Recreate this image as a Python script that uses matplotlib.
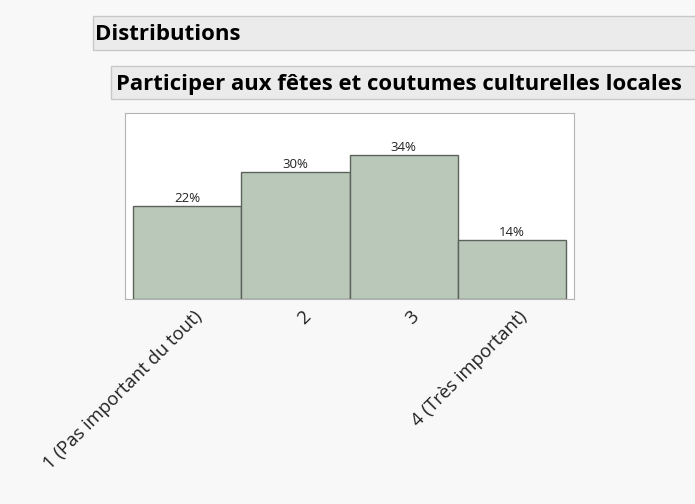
import matplotlib.pyplot as plt
import matplotlib.transforms as mtransforms
from matplotlib.patches import Rectangle

# data
categories = ["1 (Pas important du tout)", "2", "3", "4 (Très important)"]
percents = [22, 30, 34, 14]
bar_labels = ["22%", "30%", "34%", "14%"]

W, H = 695, 504
fig = plt.figure(figsize=(W / 100, H / 100), dpi=100)
fig.patch.set_facecolor("#f8f8f8")
plt.rcParams['font.family'] = ['Open Sans', 'DejaVu Sans']


def px_rect(x0, y0, x1, y1, **kw):
    # rectangle given in pixel coords (top-left origin)
    r = Rectangle((x0 / W, 1 - y1 / H), (x1 - x0) / W, (y1 - y0) / H,
                  transform=fig.transFigure, **kw)
    fig.add_artist(r)


# header bars
px_rect(93, 16, 700, 50, facecolor="#ebebeb", edgecolor="#c8c8c8", lw=1)
fig.text(95 / W, 1 - 40.5 / H, "Distributions", fontsize=16, fontweight="bold",
         va="baseline", ha="left")
px_rect(111, 66, 700, 99, facecolor="#ebebeb", edgecolor="#c8c8c8", lw=1)
fig.text(116 / W, 1 - 90 / H, "Participer aux fêtes et coutumes culturelles locales",
         fontsize=15.9, fontweight="bold", va="baseline", ha="left")

# plot area
ax = fig.add_axes([125 / W, 1 - 299 / H, (574 - 125) / W, (299 - 113) / H])
ax.set_facecolor("white")
x = range(len(categories))
ax.bar(x, percents, width=1.0, color="#b9c8b9", edgecolor="#5c625c", linewidth=1)
for i, (p, lab) in enumerate(zip(percents, bar_labels)):
    ax.text(i, p + 0.2, lab, ha="center", va="bottom", fontsize=9.5, color="#222222")

ax.set_xlim(-0.574, 3.574)
ax.set_ylim(0, 44)
ax.set_yticks([])
ax.set_xticks(list(x))
ax.set_xticklabels(categories, rotation=45, ha="right", rotation_mode="anchor",
                   fontsize=13.3, color="#222222")
ax.tick_params(axis="x", length=0, pad=6)
shift = mtransforms.ScaledTranslation(6 / 100, 0, fig.dpi_scale_trans)
for t in ax.get_xticklabels():
    t.set_transform(t.get_transform() + shift)
for s in ax.spines.values():
    s.set_color("#b4b4b4")

fig.savefig("out.png", dpi=100, facecolor=fig.get_facecolor())
